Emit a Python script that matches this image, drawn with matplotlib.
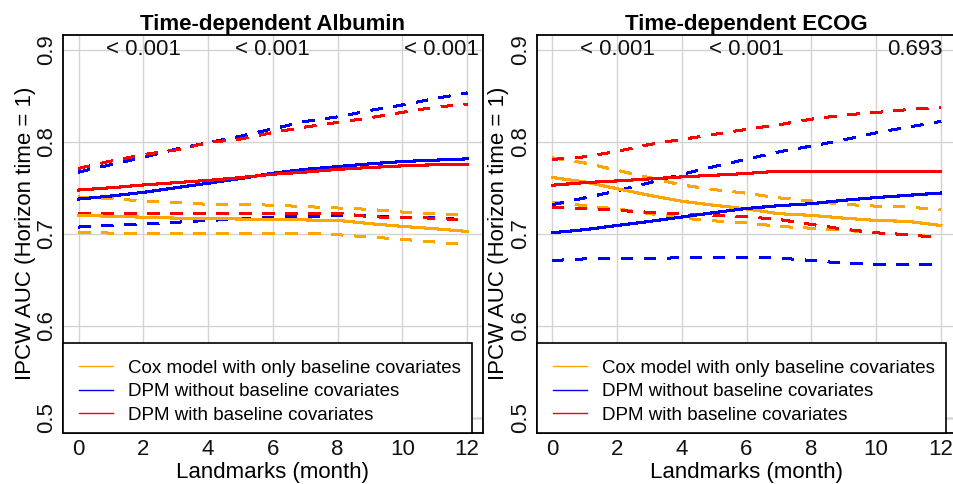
import matplotlib
matplotlib.use("Agg")
import matplotlib.pyplot as plt
from matplotlib.lines import Line2D
from matplotlib.patches import Rectangle

plt.rcParams['font.family'] = ['Liberation Sans', 'DejaVu Sans']

# Landmark times (months)
months = [0, 1, 2, 3, 4, 5, 6, 7, 8, 9, 10, 11, 12]

# Time-dependent Albumin: AUC estimates with lower / upper bands
alb_cox = [0.720, 0.719, 0.718, 0.717, 0.7165, 0.716, 0.7155, 0.715, 0.7145, 0.711, 0.708, 0.7055, 0.7025]
alb_cox_lo = [0.7018, 0.7007, 0.7007, 0.7007, 0.7007, 0.7007, 0.7007, 0.7005, 0.6989, 0.6965, 0.694, 0.691, 0.688]
alb_cox_hi = [0.740, 0.738, 0.7357, 0.734, 0.732, 0.732, 0.731, 0.7295, 0.728, 0.7265, 0.7236, 0.7215, 0.720]
alb_dpm = [0.7377, 0.741, 0.745, 0.750, 0.7549, 0.760, 0.7658, 0.770, 0.773, 0.776, 0.7785, 0.780, 0.7814]
alb_dpm_lo = [0.7073, 0.709, 0.7105, 0.7125, 0.7145, 0.716, 0.718, 0.719, 0.7195, 0.7195, 0.718, 0.718, 0.7146]
alb_dpm_hi = [0.767, 0.775, 0.783, 0.792, 0.799, 0.806, 0.814, 0.822, 0.827, 0.834, 0.840, 0.847, 0.853]
alb_dpmb = [0.7475, 0.750, 0.753, 0.7555, 0.758, 0.761, 0.7647, 0.767, 0.770, 0.772, 0.7738, 0.775, 0.7756]
alb_dpmb_lo = [0.7225, 0.7225, 0.7225, 0.7225, 0.7225, 0.7225, 0.7225, 0.7225, 0.7225, 0.7185, 0.7175, 0.717, 0.7146]
alb_dpmb_hi = [0.771, 0.779, 0.786, 0.791, 0.799, 0.803, 0.810, 0.816, 0.821, 0.826, 0.832, 0.8375, 0.841]

# Time-dependent ECOG: AUC estimates with lower / upper bands
ecog_cox = [0.7611, 0.7563, 0.749, 0.7418, 0.7353, 0.731, 0.727, 0.7218, 0.720, 0.717, 0.7145, 0.7134, 0.709]
ecog_cox_lo = [0.7345, 0.7305, 0.727, 0.722, 0.717, 0.714, 0.712, 0.708, 0.706, 0.704, 0.701, 0.699, 0.696]
ecog_cox_hi = [0.7825, 0.777, 0.769, 0.761, 0.753, 0.748, 0.744, 0.739, 0.7356, 0.732, 0.730, 0.729, 0.726]
ecog_dpm = [0.7011, 0.7044, 0.709, 0.7134, 0.7182, 0.723, 0.7275, 0.7305, 0.7327, 0.7364, 0.7393, 0.7418, 0.7443]
ecog_dpm_lo = [0.6709, 0.6727, 0.6727, 0.673, 0.674, 0.6745, 0.6745, 0.6735, 0.671, 0.668, 0.6666, 0.6666, 0.6666]
ecog_dpm_hi = [0.7316, 0.739, 0.7465, 0.7555, 0.7645, 0.773, 0.781, 0.789, 0.7953, 0.802, 0.8097, 0.816, 0.822]
ecog_dpmb = [0.7527, 0.7556, 0.7574, 0.7596, 0.7618, 0.7636, 0.7655, 0.768, 0.768, 0.768, 0.768, 0.768, 0.768]
ecog_dpmb_lo = [0.7287, 0.7276, 0.7254, 0.7233, 0.7213, 0.720, 0.7185, 0.7155, 0.7102, 0.705, 0.701, 0.699, 0.6955]
ecog_dpmb_hi = [0.7808, 0.7836, 0.7895, 0.797, 0.8025, 0.808, 0.8135, 0.8185, 0.8245, 0.829, 0.8318, 0.835, 0.8375]

# p-values shown along the top of each panel
pval_months = [2, 6, 11.2]
alb_pvals = ['< 0.001', '< 0.001', '< 0.001']
ecog_pvals = ['< 0.001', '< 0.001', '0.693']

model_labels = ['Cox model with only baseline covariates',
                'DPM without baseline covariates',
                'DPM with baseline covariates']
model_colors = ['#FFA500', '#0000FF', '#FF0000']

x_ticks = [0, 2, 4, 6, 8, 10, 12]
y_ticks = [0.5, 0.6, 0.7, 0.8, 0.9]
y_ticklabels = ['0.5', '0.6', '0.7', '0.8', '0.9']

panels = [
    ('Time-dependent Albumin',
     [(alb_cox, alb_cox_lo, alb_cox_hi),
      (alb_dpm, alb_dpm_lo, alb_dpm_hi),
      (alb_dpmb, alb_dpmb_lo, alb_dpmb_hi)],
     alb_pvals),
    ('Time-dependent ECOG',
     [(ecog_cox, ecog_cox_lo, ecog_cox_hi),
      (ecog_dpm, ecog_dpm_lo, ecog_dpm_hi),
      (ecog_dpmb, ecog_dpmb_lo, ecog_dpmb_hi)],
     ecog_pvals),
]

W, H = 954, 484
fig = plt.figure(figsize=(W / 100, H / 100), dpi=100)
ax_w_px, ax_h_px = 419.7, 397.5
ax_w = ax_w_px / W
ax_h = ax_h_px / H
ax_b = 1 - 432.5 / H
lefts = [63 / W, 536.7 / W]

dash = (0, (5.5, 5.5))

for left, (title, series, pvals) in zip(lefts, panels):
    ax = fig.add_axes([left, ax_b, ax_w, ax_h])
    ax.set_xlim(-0.48, 12.48)
    ax.set_ylim(0.484, 0.916)
    ax.set_axisbelow(True)
    ax.grid(True, color='#D3D3D3', lw=1.0)
    ax.axhline(0.5, color='#444444', lw=0.9, zorder=0.5)

    for (est, lo, hi), col in zip(series, model_colors):
        ax.plot(months, lo, color=col, lw=1.5, linestyle=dash, antialiased=False)
        ax.plot(months, hi, color=col, lw=1.5, linestyle=dash, antialiased=False)
    for (est, lo, hi), col in zip(series, model_colors):
        ax.plot(months, est, color=col, lw=1.5, antialiased=False)

    for xm, txt in zip(pval_months, pvals):
        ax.text(xm, 0.9, txt, fontsize=16, ha='center', va='center', color='#111111')

    ax.set_xticks(x_ticks)
    ax.set_yticks(y_ticks)
    ax.set_yticklabels(y_ticklabels, rotation=90, va='center')
    ax.tick_params(axis='both', length=0, labelsize=16, colors='#111111')
    ax.tick_params(axis='x', pad=5)
    ax.tick_params(axis='y', pad=4)
    for sp in ax.spines.values():
        sp.set_linewidth(1.3)
        sp.set_color('black')

    ax.set_xlabel('Landmarks (month)', fontsize=16, labelpad=1)
    ax.set_ylabel('IPCW AUC (Horizon time = 1)', fontsize=16, labelpad=0.5)
    ax.set_title(title, fontsize=16, fontweight='bold', pad=3.5)

    # legend box anchored in the lower-left corner of the panel
    box = Rectangle((0, 0), 409 / ax_w_px, 89.5 / ax_h_px, transform=ax.transAxes,
                    facecolor='white', edgecolor='black', lw=1.2, zorder=4.5,
                    clip_on=False)
    ax.add_patch(box)
    handles = [Line2D([], [], color=c, lw=1.0) for c in model_colors]
    leg = ax.legend(handles, model_labels, loc='lower left',
                    bbox_to_anchor=(4 / ax_w_px, -3.5 / ax_h_px),
                    borderaxespad=0, fontsize=13.5, handlelength=1.8,
                    handletextpad=0.8, borderpad=0.66, labelspacing=0.34,
                    frameon=False)
    leg.set_zorder(5)

fig.savefig('out.png', dpi=100)
